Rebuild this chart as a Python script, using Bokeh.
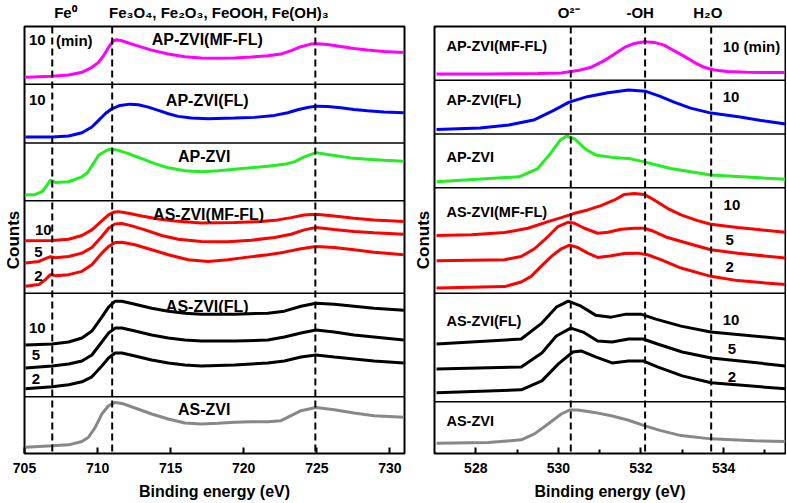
import numpy as np
from bokeh.plotting import figure
from bokeh.layouts import row
from bokeh.models import Span, Label, Range1d, FixedTicker, LinearAxis
from bokeh.embed import file_html
from bokeh.resources import INLINE

FONT = "Liberation Sans"

# ================= Fe 2p spectra (left), intensity in a.u. =================
fe_apmf_x = [705.07, 706.89, 708.02, 708.93, 709.61, 710.07, 710.41, 710.75, 711.09, 711.31, 711.66, 712.56, 713.7, 714.84, 715.97, 717.1, 718.24, 719.37, 720.51, 721.65, 722.55, 723.24, 723.92, 724.6, 725.05, 725.74, 726.64, 727.55, 728.46, 729.59, 730.95]
fe_apmf_y = [7, 8, 9.3, 12, 17, 22, 28.7, 37, 43.7, 44.7, 43.7, 39.3, 34.3, 30.3, 27.7, 26.3, 26, 26.3, 27.3, 28.7, 30.3, 33.7, 37.7, 40.3, 40.7, 40, 38, 36, 34.3, 33, 32]

fe_apfl_x = [705.07, 706.89, 708.02, 708.93, 709.61, 710.07, 710.52, 710.97, 711.54, 712.22, 712.79, 713.47, 714.16, 714.84, 715.52, 716.42, 717.56, 719.37, 720.74, 722.1, 723.01, 723.69, 724.37, 724.94, 725.74, 726.64, 727.55, 728.46, 729.59, 730.95]
fe_apfl_y = [6, 6, 7, 10.3, 16, 22.7, 29.3, 34.3, 37.7, 39, 38.3, 36, 32.7, 29.3, 26.7, 25, 24.3, 25, 25.7, 27.7, 30.3, 33.3, 35.7, 37, 36.7, 35.3, 33.7, 32.3, 31, 30.3]

fe_ap_x = [705.07, 705.75, 706.2, 706.55, 706.77, 707.11, 708.02, 708.93, 709.3, 709.61, 710.07, 710.52, 710.86, 711.31, 712.11, 713.02, 713.92, 714.84, 715.97, 717.1, 718.24, 719.37, 720.51, 721.65, 722.78, 723.46, 724.14, 724.94, 725.74, 727.32, 728.46, 729.59, 730.95]
fe_ap_y = [5.7, 6.3, 9, 15.7, 20.7, 18.3, 19, 24, 28, 35, 45.7, 49.7, 51.7, 51, 47.3, 42.3, 37.3, 33, 30, 29, 30, 31.5, 33, 34.5, 36.5, 39, 44, 48.3, 46.3, 43, 41.7, 40.7, 39.7]

fe_asmf10_x = [705.07, 706.89, 708.02, 708.93, 709.61, 710.29, 710.75, 711.09, 711.43, 712.11, 713.02, 714.16, 715.29, 717.1, 719.37, 721.19, 722.33, 723.24, 724.14, 724.94, 726.19, 727.55, 728.91, 730.95]
fe_asmf10_y = [52.7, 53, 54.3, 58, 63.7, 72.7, 78.7, 81.3, 82, 80.3, 77.7, 74.7, 72.7, 70.7, 71, 72, 73.7, 76, 78.7, 79.3, 77.7, 75.3, 73.7, 72]
fe_asmf5_x = [705.07, 705.98, 706.43, 706.77, 707.11, 708.02, 708.93, 709.61, 710.29, 710.75, 711.2, 711.66, 712.34, 713.24, 714.38, 715.52, 717.1, 718.92, 720.51, 722.1, 723.24, 724.14, 724.94, 726.19, 727.55, 728.91, 730.95]
fe_asmf5_y = [30.3, 32, 34.7, 36.7, 35.7, 37, 40.3, 46, 57, 65.3, 69.7, 70, 67.7, 63.7, 58, 54.3, 52, 51.7, 53.3, 56, 59.3, 63.7, 66, 64, 62, 60.7, 59.3]
fe_asmf2_x = [705.07, 705.98, 706.43, 706.77, 707.11, 708.02, 708.93, 709.61, 710.29, 710.75, 711.2, 711.66, 712.56, 713.7, 714.84, 716.2, 717.56, 718.92, 720.28, 721.65, 722.78, 723.92, 724.94, 726.19, 727.55, 728.91, 730.95]
fe_asmf2_y = [7, 8.7, 13.7, 18.7, 17.7, 18.7, 22, 28.7, 40.3, 47, 51, 51.3, 48.7, 43.7, 38.7, 33.7, 32, 33.7, 36.3, 38.7, 41.3, 44.7, 47, 46, 43.7, 41.3, 38.7]

fe_asfl_x = [705.07, 706.89, 708.02, 708.93, 709.61, 710.29, 710.75, 711.2, 711.66, 712.56, 713.7, 714.84, 715.97, 717.1, 719.37, 721.65, 722.78, 723.92, 724.94, 726.19, 727.55, 728.91, 730.95]
fe_asfl10_y = [52, 53, 55, 59, 66, 80, 90, 96, 96, 93, 89, 86, 84, 83, 83, 84, 86, 91, 94, 93, 91, 89, 87]
fe_asfl5_y = [29, 31, 33, 36, 42, 55, 64, 69, 69, 66, 62, 59, 57, 56, 56, 57, 60, 64, 67, 65, 62, 60, 57]
fe_asfl2_y = [8, 10, 12, 15, 20, 31, 39, 44, 44, 41, 37, 34, 32, 31, 32, 34, 36, 40, 42, 40, 38, 36, 34]

fe_as_x = [705.07, 706.89, 708.02, 708.93, 709.38, 709.84, 710.29, 710.75, 711.2, 711.66, 712.56, 713.7, 714.84, 715.97, 717.1, 718.24, 719.37, 720.51, 721.65, 722.55, 723.24, 723.92, 724.94, 726.19, 727.55, 728.91, 730.95]
fe_as_y = [6.3, 7.7, 8.7, 12, 16.3, 26.3, 39.7, 48, 51.3, 50.3, 45.7, 39.7, 34.7, 30.7, 29.7, 30.3, 31.3, 32, 32, 33, 38, 43, 46.3, 44, 40.7, 38, 36.3]

# ================= O 1s spectra (right), intensity in a.u. =================
o_apmf_x = [527.05, 528.3, 529.5, 530.07, 530.47, 530.79, 531.11, 531.36, 531.6, 531.84, 532.08, 532.32, 532.56, 532.8, 533.05, 533.29, 533.53, 533.77, 534.09, 534.58, 535.5]
o_apmf_y = [6.3, 6.3, 6.7, 7.3, 9.7, 13, 19.7, 26.3, 33, 37, 38.7, 38, 35.3, 29.7, 24, 18, 13, 10.3, 8.7, 8, 7.7]

o_apfl_x = [527.05, 528.1, 528.8, 529.4, 529.9, 530.26, 530.7, 531.2, 531.7, 532.1, 532.45, 532.8, 533.2, 533.7, 534.4, 535.0, 535.5]
o_apfl_y = [4.5, 6, 9, 14, 24, 32, 37.5, 41.5, 44.3, 43, 38, 32, 26, 21, 17, 13, 10]

o_ap_x = [527.05, 529.05, 529.5, 529.8, 530.05, 530.2, 530.4, 530.65, 530.9, 531.3, 531.7, 532.08, 532.72, 533.69, 535.5]
o_ap_y = [6, 11, 19.3, 34, 48, 52, 49, 39, 33, 30.5, 29.5, 26, 19.3, 12.7, 8.5]

o_asmf10_x = [527.05, 527.89, 528.7, 529.26, 529.75, 530.07, 530.39, 530.71, 531.03, 531.36, 531.6, 531.84, 532.08, 532.32, 532.64, 532.97, 533.37, 533.69, 534.34, 534.9, 535.5]
o_asmf10_y = [58, 58.7, 61, 65.3, 72, 76, 80.3, 83.7, 88, 93.7, 99.3, 100.3, 99.3, 93.7, 85.3, 78.7, 73, 69.3, 66, 63.7, 61.3]
o_asmf5_x = [527.05, 528.7, 529.1, 529.42, 529.75, 529.99, 530.23, 530.39, 530.63, 530.95, 531.2, 531.52, 531.84, 532.08, 532.32, 532.64, 533.13, 533.69, 534.34, 535.5]
o_asmf5_y = [32.7, 33.7, 37, 44.7, 57, 67, 71.3, 70.3, 65.3, 60.3, 61.3, 64.3, 65.3, 65.3, 62, 56, 50.3, 43.7, 40.3, 35.3]
o_asmf2_x = [527.05, 528.7, 529.1, 529.34, 529.58, 529.83, 530.07, 530.27, 530.47, 530.71, 530.95, 531.28, 531.6, 531.92, 532.16, 532.48, 532.97, 533.69, 534.34, 535.5]
o_asmf2_y = [5.3, 6.7, 11.3, 17, 27, 37, 44.7, 48.3, 46, 40.3, 36, 37.7, 40, 40.3, 38.7, 33.7, 25.3, 17, 12.7, 8.7]

o_asfl10_x = [527.05, 529.1, 529.6, 529.95, 530.24, 530.55, 530.9, 531.28, 531.64, 532.0, 532.36, 532.97, 533.69, 535.5]
o_asfl10_y = [58, 63, 79, 95, 101, 96, 87, 85, 88, 88, 83, 76, 70, 63]
o_asfl5_x = [527.05, 529.1, 529.6, 529.95, 530.3, 530.6, 530.95, 531.3, 531.7, 532.05, 532.4, 533.0, 533.7, 535.5]
o_asfl5_y = [33, 35, 49, 66, 74, 70, 61, 60, 63, 63, 58, 50, 44, 36]
o_asfl2_x = [527.05, 529.1, 529.6, 530.0, 530.35, 530.55, 530.9, 531.3, 531.7, 532.05, 532.4, 533.0, 533.7, 535.5]
o_asfl2_y = [9, 12, 21, 38, 50, 51, 45, 39, 41, 41, 35, 26, 19, 13]

o_as_x = [527.05, 528.3, 529.1, 529.42, 529.75, 530.07, 530.27, 530.47, 530.87, 531.28, 531.68, 532.08, 532.48, 532.97, 533.69, 534.74, 535.5]
o_as_y = [10.3, 11, 13.7, 19.7, 29.7, 39.7, 43.7, 43.7, 41.3, 38, 33.7, 28, 23, 18, 14.7, 12.7, 12]

# reference binding energies (dashed lines) and their labels
fe_refs = [706.9, 711.0, 724.9]
fe_head_pos = [707.8, 718.3]
fe_head_txt = ["Fe\u2070", "Fe\u2083O\u2084, Fe\u2082O\u2083, FeOOH, Fe(OH)\u2083"]
o_refs = [530.3, 532.1, 533.7]
o_head_pos = [530.25, 531.98, 533.62]
o_head_txt = ["O\u00b2\u207b", "-OH", "H\u2082O"]

fe_ticks = [705, 710, 715, 720, 725, 730]
o_ticks = [528, 530, 532, 534]
o_minor = [529, 531, 533, 535]

MAGENTA, BLUE, GREEN, RED, BLACK, GREY = "#FF00FF", "#0000FF", "#22EE22", "#FF0000", "#000000", "#888888"


def style_text(ax, size):
    ax.major_label_text_font = FONT
    ax.major_label_text_font_style = "bold"
    ax.major_label_text_font_size = size
    ax.major_label_text_color = "black"
    ax.axis_label_text_font = FONT
    ax.axis_label_text_font_style = "bold"
    ax.axis_label_text_color = "black"


def base_fig(width, x_range, mb_left, mb_right, ticks, minor, ylabel, head_pos, head_txt):
    p = figure(width=width, height=502, x_range=x_range, y_range=Range1d(0, 429),
               output_backend="svg", toolbar_location=None, y_axis_location="left",
               min_border_left=mb_left, min_border_right=mb_right,
               min_border_top=24, min_border_bottom=49)
    p.xgrid.visible = False
    p.ygrid.visible = False
    p.outline_line_color = "black"
    p.outline_line_width = 2
    p.background_fill_color = "white"
    p.border_fill_color = "white"
    # bottom axis
    ax = p.xaxis[0]
    ax.ticker = FixedTicker(ticks=ticks, minor_ticks=minor)
    ax.axis_line_color = None
    ax.major_tick_in = 6
    ax.major_tick_out = 0
    ax.major_tick_line_width = 2
    ax.minor_tick_in = 4 if minor else 0
    ax.minor_tick_out = 0
    ax.minor_tick_line_width = 2
    style_text(ax, "14px")
    ax.major_label_standoff = 9
    ax.axis_label = "Binding energy (eV)"
    ax.axis_label_text_font_size = "16px"
    ax.axis_label_standoff = 7
    # left axis: label only
    ay = p.yaxis[0]
    ay.ticker = FixedTicker(ticks=[])
    ay.axis_line_color = None
    ay.major_tick_out = 0
    ay.minor_tick_out = 0
    ay.major_label_standoff = 0
    style_text(ay, "1px")
    ay.axis_label = ylabel
    ay.axis_label_text_font_size = "17px"
    ay.axis_label_standoff = 2
    # top axis: species labels over the reference lines
    top = LinearAxis(ticker=FixedTicker(ticks=head_pos),
                     major_label_overrides={float(k): v for k, v in zip(head_pos, head_txt)})
    top.axis_line_color = None
    top.major_tick_in = 0
    top.major_tick_out = 0
    top.minor_tick_in = 0
    top.minor_tick_out = 0
    style_text(top, "15px")
    top.major_label_standoff = 6
    p.add_layout(top, "above")
    return p


def txt(p, x, y, s, size="15px", align="left", baseline="middle"):
    p.add_layout(Label(x=x, y=y, text=s, text_font=FONT, text_font_style="bold",
                       text_font_size=size, text_align=align, text_baseline=baseline,
                       text_color="black"))


LW = 3

# ---------------- left figure ----------------
left = base_fig(410, Range1d(705, 731), 22, 6, fe_ticks, [], "Counts", fe_head_pos, fe_head_txt)
lb = [0, 57, 161, 254, 312, 371]   # stack offsets of the six sub-panels
for b in lb[1:]:
    left.add_layout(Span(location=b, dimension="width", line_color="black", line_width=1.5))
for e in fe_refs:
    left.add_layout(Span(location=e, dimension="height", line_color="black", line_width=2, line_dash="7 4"))

left.line(fe_apmf_x, np.array(fe_apmf_y) + lb[5], line_color=MAGENTA, line_width=LW)
left.line(fe_apfl_x, np.array(fe_apfl_y) + lb[4], line_color=BLUE, line_width=LW)
left.line(fe_ap_x, np.array(fe_ap_y) + lb[3], line_color=GREEN, line_width=LW)
left.line(fe_asmf10_x, np.array(fe_asmf10_y) + lb[2], line_color=RED, line_width=LW)
left.line(fe_asmf5_x, np.array(fe_asmf5_y) + lb[2], line_color=RED, line_width=LW)
left.line(fe_asmf2_x, np.array(fe_asmf2_y) + lb[2], line_color=RED, line_width=LW)
left.line(fe_asfl_x, np.array(fe_asfl10_y) + lb[1], line_color=BLACK, line_width=LW)
left.line(fe_asfl_x, np.array(fe_asfl5_y) + lb[1], line_color=BLACK, line_width=LW)
left.line(fe_asfl_x, np.array(fe_asfl2_y) + lb[1], line_color=BLACK, line_width=LW)
left.line(fe_as_x, np.array(fe_as_y) + lb[0], line_color=GREY, line_width=LW)

LS = "16px"
txt(left, 717.5, 416, "AP-ZVI(MF-FL)", size=LS, align="center")
txt(left, 717.5, 355, "AP-ZVI(FL)", size=LS, align="center")
txt(left, 717.3, 298, "AP-ZVI", size=LS, align="center")
txt(left, 717.6, 240, "AS-ZVI(MF-FL)", size=LS, align="center")
txt(left, 717.5, 148, "AS-ZVI(FL)", size=LS, align="center")
txt(left, 717.3, 44, "AS-ZVI", size=LS, align="center")
txt(left, 705.3, 415, "10")
txt(left, 707.15, 415, "(min)")
txt(left, 705.3, 355, "10")
txt(left, 705.72, 225, "10")
txt(left, 705.66, 202, "5")
txt(left, 705.66, 178, "2")
txt(left, 705.3, 126, "10")
txt(left, 705.5, 99, "5")
txt(left, 705.5, 75, "2")

# ---------------- right figure ----------------
right = base_fig(376, Range1d(527, 535.5), 23, 1, o_ticks, o_minor, "Conuts", o_head_pos, o_head_txt)
rb = [0, 52, 161, 267, 321, 375]
for b in rb[1:]:
    right.add_layout(Span(location=b, dimension="width", line_color="black", line_width=1.5))
for e in o_refs:
    right.add_layout(Span(location=e, dimension="height", line_color="black", line_width=2, line_dash="7 4"))

right.line(o_apmf_x, np.array(o_apmf_y) + rb[5], line_color=MAGENTA, line_width=LW)
right.line(o_apfl_x, np.array(o_apfl_y) + rb[4], line_color=BLUE, line_width=LW)
right.line(o_ap_x, np.array(o_ap_y) + rb[3], line_color=GREEN, line_width=LW)
right.line(o_asmf10_x, np.array(o_asmf10_y) + rb[2], line_color=RED, line_width=LW)
right.line(o_asmf5_x, np.array(o_asmf5_y) + rb[2], line_color=RED, line_width=LW)
right.line(o_asmf2_x, np.array(o_asmf2_y) + rb[2], line_color=RED, line_width=LW)
right.line(o_asfl10_x, np.array(o_asfl10_y) + rb[1], line_color=BLACK, line_width=LW)
right.line(o_asfl5_x, np.array(o_asfl5_y) + rb[1], line_color=BLACK, line_width=LW)
right.line(o_asfl2_x, np.array(o_asfl2_y) + rb[1], line_color=BLACK, line_width=LW)
right.line(o_as_x, np.array(o_as_y) + rb[0], line_color=GREY, line_width=LW)

RS = "14.5px"
txt(right, 527.29, 409, "AP-ZVI(MF-FL)", size=RS)
txt(right, 527.29, 355, "AP-ZVI(FL)", size=RS)
txt(right, 527.29, 298, "AP-ZVI", size=RS)
txt(right, 527.29, 243, "AS-ZVI(MF-FL)", size=RS)
txt(right, 527.29, 133, "AS-ZVI(FL)", size=RS)
txt(right, 527.29, 33, "AS-ZVI", size=RS)
txt(right, 533.98, 409, "10 (min)")
txt(right, 533.98, 358, "10")
txt(right, 534.0, 250, "10")
txt(right, 534.05, 214, "5")
txt(right, 534.05, 187, "2")
txt(right, 533.98, 134, "10")
txt(right, 534.1, 105, "5")
txt(right, 534.1, 77, "2")

layout = row(left, right)
open("out.html", "w").write(file_html(layout, INLINE))
